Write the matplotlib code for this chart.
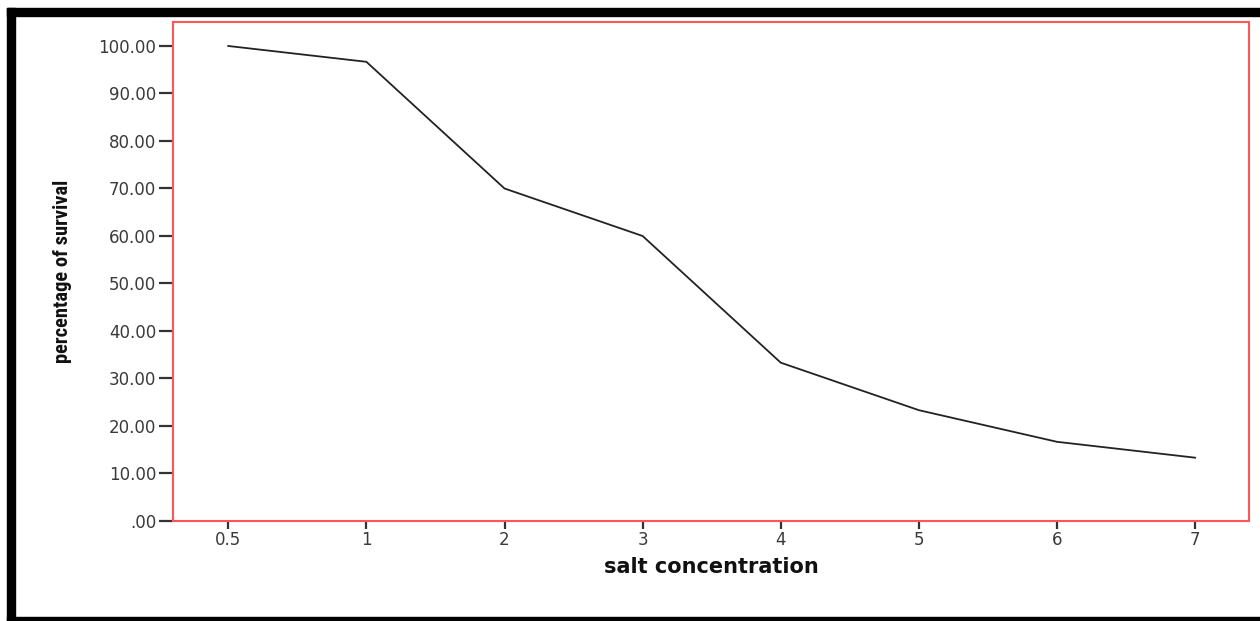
import matplotlib
matplotlib.use("Agg")
import matplotlib.pyplot as plt
from matplotlib.patches import Rectangle
from matplotlib import font_manager

categories = ["0.5", "1", "2", "3", "4", "5", "6", "7"]
survival = [100.0, 96.67, 70.0, 60.0, 33.33, 23.33, 16.67, 13.33]
yticks = [0, 10, 20, 30, 40, 50, 60, 70, 80, 90, 100]
ytick_labels = [".00", "10.00", "20.00", "30.00", "40.00", "50.00",
                "60.00", "70.00", "80.00", "90.00", "100.00"]

names = {f.name for f in font_manager.fontManager.ttflist}
cond = [n for n in ["Liberation Sans Narrow", "DejaVu Sans Condensed", "Roboto Condensed"] if n in names]

W, H = 1260, 621
fig = plt.figure(figsize=(W / 100, H / 100), dpi=100)

fig.patches.append(Rectangle((7 / W, 1 - 16 / H), 1.0, 8 / H, transform=fig.transFigure,
                             color="black", zorder=0))
fig.patches.append(Rectangle((7 / W, 0), 8 / W, 1 - 8 / H, transform=fig.transFigure,
                             color="black", zorder=0))
fig.patches.append(Rectangle((7 / W, 0), 1.0, 4 / H, transform=fig.transFigure,
                             color="black", zorder=0))

ax = fig.add_axes([173 / W, 100 / H, (1249 - 173) / W, (521 - 22) / H])
x = list(range(len(categories)))
ax.plot(x, survival, color="#222222", lw=1.3)

ax.set_xlim(-0.4, 7.39)
ax.set_ylim(0, 105.05)
ax.set_xticks(x)
ax.set_xticklabels(categories)
ax.set_yticks(yticks)
ax.set_yticklabels(ytick_labels)

for s in ax.spines.values():
    s.set_color("#ff5555")
    s.set_linewidth(1.5)

ax.tick_params(axis="y", length=10, width=1.6, color="#333333", pad=2,
               labelsize=12, labelcolor="#3a3a3a")
ax.tick_params(axis="x", length=6, width=1.6, color="#333333", pad=1,
               labelsize=12, labelcolor="#3a3a3a")
for lab in ax.get_xticklabels() + ax.get_yticklabels():
    lab.set_family("DejaVu Sans")

ax.set_xlabel("salt concentration", fontsize=15, fontweight="bold",
              family="DejaVu Sans", color="#111111")
ax.xaxis.set_label_coords(0.5, -0.072)

if cond:
    ax.set_ylabel("percentage of survival", fontsize=14.8, fontweight="bold",
                  family=[cond[0], "DejaVu Sans"], color="#111111")
else:
    ax.set_ylabel("percentage of survival", fontsize=10.8, fontweight="bold",
                  family="DejaVu Sans", color="#111111")
ax.yaxis.set_label_coords(-0.103, 0.5)
ax.yaxis.label.set_va("center")

fig.savefig("out.png", dpi=100)
